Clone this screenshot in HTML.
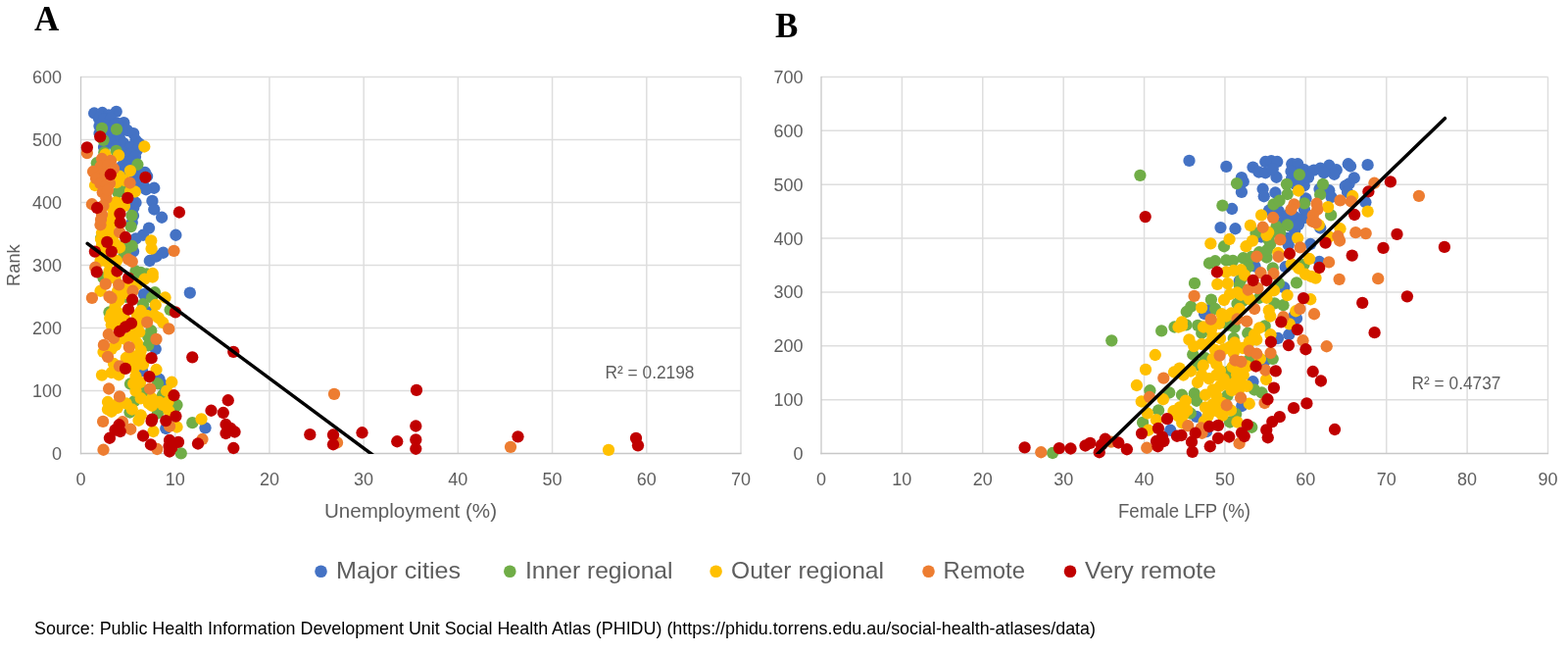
<!DOCTYPE html>
<html lang="en">
<head>
<meta charset="utf-8">
<title>Rank vs Unemployment and Female LFP</title>
<style>
html,body{margin:0;padding:0;background:#fff;}
body{width:1600px;height:667px;overflow:hidden;font-family:"Liberation Sans",sans-serif;}
svg{display:block;}
text{font-family:"Liberation Sans",sans-serif;fill:#5E5E5E;}
.tk text{font-size:18px;}
.ttl{font-size:20px;}
.lg{font-size:24px;}
.r2{font-size:17.5px;}
.pn{font-family:"Liberation Serif",serif;font-weight:bold;font-size:35px;fill:#000;}
.src{font-size:17.9px;fill:#000;}
</style>
</head>
<body>
<svg width="1600" height="667" viewBox="0 0 1600 667">
<rect width="1600" height="667" fill="#fff"/>
<defs><clipPath id="cpA"><rect x="82" y="78" width="675" height="384.9"/></clipPath><clipPath id="cpB"><rect x="837" y="78" width="743" height="384.9"/></clipPath></defs>
<text class="pn" x="35" y="31">A</text>
<text class="pn" x="791" y="37.6">B</text>
<!-- chart A -->
<g stroke="#DEDEDE" stroke-width="1.5" fill="none">
<line x1="178.71" y1="78.50" x2="178.71" y2="462.50"/>
<line x1="274.93" y1="78.50" x2="274.93" y2="462.50"/>
<line x1="371.14" y1="78.50" x2="371.14" y2="462.50"/>
<line x1="467.36" y1="78.50" x2="467.36" y2="462.50"/>
<line x1="563.57" y1="78.50" x2="563.57" y2="462.50"/>
<line x1="659.79" y1="78.50" x2="659.79" y2="462.50"/>
<line x1="756.00" y1="78.50" x2="756.00" y2="462.50"/>
<line x1="82.50" y1="78.50" x2="756.00" y2="78.50"/>
<line x1="82.50" y1="142.50" x2="756.00" y2="142.50"/>
<line x1="82.50" y1="206.50" x2="756.00" y2="206.50"/>
<line x1="82.50" y1="270.50" x2="756.00" y2="270.50"/>
<line x1="82.50" y1="334.50" x2="756.00" y2="334.50"/>
<line x1="82.50" y1="398.50" x2="756.00" y2="398.50"/>
</g>
<g stroke="#C8C8C8" stroke-width="1.3" fill="none">
<line x1="82.50" y1="77.90" x2="82.50" y2="463.20"/>
<line x1="81.80" y1="462.50" x2="756.60" y2="462.50"/>
</g>
<g class="tk">
<text x="82.50" y="494.8" text-anchor="middle">0</text>
<text x="178.71" y="494.8" text-anchor="middle">10</text>
<text x="274.93" y="494.8" text-anchor="middle">20</text>
<text x="371.14" y="494.8" text-anchor="middle">30</text>
<text x="467.36" y="494.8" text-anchor="middle">40</text>
<text x="563.57" y="494.8" text-anchor="middle">50</text>
<text x="659.79" y="494.8" text-anchor="middle">60</text>
<text x="756.00" y="494.8" text-anchor="middle">70</text>
<text x="63.00" y="469.00" text-anchor="end">0</text>
<text x="63.00" y="405.00" text-anchor="end">100</text>
<text x="63.00" y="341.00" text-anchor="end">200</text>
<text x="63.00" y="277.00" text-anchor="end">300</text>
<text x="63.00" y="213.00" text-anchor="end">400</text>
<text x="63.00" y="149.00" text-anchor="end">500</text>
<text x="63.00" y="85.00" text-anchor="end">600</text>
</g>
<text class="ttl" x="419" y="528" text-anchor="middle" textLength="176" lengthAdjust="spacingAndGlyphs">Unemployment (%)</text>
<text class="ttl" style="font-size:19px" transform="translate(20.1,291.9) rotate(-90)" textLength="42.6" lengthAdjust="spacingAndGlyphs">Rank</text>
<text class="r2" x="617.5" y="385.6" textLength="91" lengthAdjust="spacingAndGlyphs">R² = 0.2198</text>
<g fill="#4472C4">
<circle cx="96.1" cy="115.5" r="6.15"/>
<circle cx="104.4" cy="115" r="6.15"/>
<circle cx="118.7" cy="113.8" r="6.15"/>
<circle cx="111" cy="117.5" r="6.15"/>
<circle cx="101" cy="121" r="6.15"/>
<circle cx="106" cy="150" r="6.15"/>
<circle cx="106" cy="121.5" r="6.15"/>
<circle cx="113" cy="121" r="6.15"/>
<circle cx="126.4" cy="125.2" r="6.15"/>
<circle cx="120" cy="126" r="6.15"/>
<circle cx="101.5" cy="128.5" r="6.15"/>
<circle cx="109" cy="128" r="6.15"/>
<circle cx="116" cy="128" r="6.15"/>
<circle cx="123" cy="133" r="6.15"/>
<circle cx="130" cy="133" r="6.15"/>
<circle cx="101.5" cy="136" r="6.15"/>
<circle cx="108" cy="136" r="6.15"/>
<circle cx="115" cy="136" r="6.15"/>
<circle cx="136.2" cy="136.1" r="6.15"/>
<circle cx="122" cy="141" r="6.15"/>
<circle cx="112" cy="143" r="6.15"/>
<circle cx="138.5" cy="143" r="6.15"/>
<circle cx="126" cy="146" r="6.15"/>
<circle cx="142" cy="146.5" r="6.15"/>
<circle cx="118" cy="150" r="6.15"/>
<circle cx="133" cy="150" r="6.15"/>
<circle cx="140" cy="153" r="6.15"/>
<circle cx="126" cy="156" r="6.15"/>
<circle cx="134" cy="156.5" r="6.15"/>
<circle cx="130" cy="160" r="6.15"/>
<circle cx="138" cy="160" r="6.15"/>
<circle cx="127" cy="165" r="6.15"/>
<circle cx="134" cy="165" r="6.15"/>
<circle cx="124" cy="170" r="6.15"/>
<circle cx="130" cy="170" r="6.15"/>
<circle cx="127" cy="175" r="6.15"/>
<circle cx="142" cy="175" r="6.15"/>
<circle cx="148" cy="176" r="6.15"/>
<circle cx="150.1" cy="179.75" r="6.15"/>
<circle cx="138" cy="180" r="6.15"/>
<circle cx="125" cy="187" r="6.15"/>
<circle cx="143.75" cy="185" r="6.15"/>
<circle cx="138" cy="190" r="6.15"/>
<circle cx="147" cy="190" r="6.15"/>
<circle cx="157.25" cy="191.75" r="6.15"/>
<circle cx="149" cy="193.25" r="6.15"/>
<circle cx="155.4" cy="204.9" r="6.15"/>
<circle cx="157.25" cy="213.5" r="6.15"/>
<circle cx="165.1" cy="221.75" r="6.15"/>
<circle cx="152" cy="232.62" r="6.15"/>
<circle cx="138.5" cy="206.75" r="6.15"/>
<circle cx="136.25" cy="212" r="6.15"/>
<circle cx="134.75" cy="227" r="6.15"/>
<circle cx="136" cy="220" r="6.15"/>
<circle cx="179.4" cy="239.75" r="6.15"/>
<circle cx="146" cy="239.75" r="6.15"/>
<circle cx="138.5" cy="243.5" r="6.15"/>
<circle cx="166.6" cy="257.75" r="6.15"/>
<circle cx="152.75" cy="266" r="6.15"/>
<circle cx="159.5" cy="261.5" r="6.15"/>
<circle cx="136" cy="256.5" r="6.15"/>
<circle cx="193.8" cy="298.6" r="6.15"/>
<circle cx="146.75" cy="300.1" r="6.15"/>
<circle cx="151.25" cy="318.5" r="6.15"/>
<circle cx="158.75" cy="356" r="6.15"/>
<circle cx="162.5" cy="386.75" r="6.15"/>
<circle cx="166.25" cy="392.75" r="6.15"/>
<circle cx="145" cy="378" r="6.15"/>
<circle cx="169.25" cy="437" r="6.15"/>
<circle cx="209.5" cy="436.3" r="6.15"/>
</g>
<g fill="#70AD47">
<circle cx="104" cy="130.8" r="6.15"/>
<circle cx="119" cy="131.9" r="6.15"/>
<circle cx="105.5" cy="142.8" r="6.15"/>
<circle cx="106.3" cy="155.5" r="6.15"/>
<circle cx="118.6" cy="153.9" r="6.15"/>
<circle cx="98.8" cy="166.25" r="6.15"/>
<circle cx="140.4" cy="167.75" r="6.15"/>
<circle cx="120.5" cy="196.25" r="6.15"/>
<circle cx="134.4" cy="219.9" r="6.15"/>
<circle cx="133.62" cy="231.12" r="6.15"/>
<circle cx="134.75" cy="251" r="6.15"/>
<circle cx="128.75" cy="254.75" r="6.15"/>
<circle cx="126.5" cy="260" r="6.15"/>
<circle cx="138.5" cy="276.5" r="6.15"/>
<circle cx="143.75" cy="278" r="6.15"/>
<circle cx="149.75" cy="279.5" r="6.15"/>
<circle cx="103" cy="243" r="6.15"/>
<circle cx="128" cy="248" r="6.15"/>
<circle cx="105.5" cy="283.25" r="6.15"/>
<circle cx="158" cy="298.25" r="6.15"/>
<circle cx="155" cy="303.5" r="6.15"/>
<circle cx="146" cy="310.25" r="6.15"/>
<circle cx="173.6" cy="316" r="6.15"/>
<circle cx="111.5" cy="318.5" r="6.15"/>
<circle cx="128.75" cy="302.75" r="6.15"/>
<circle cx="143" cy="284" r="6.15"/>
<circle cx="154.25" cy="337.25" r="6.15"/>
<circle cx="151.25" cy="343.25" r="6.15"/>
<circle cx="151.25" cy="352.25" r="6.15"/>
<circle cx="161" cy="391.25" r="6.15"/>
<circle cx="133" cy="391.5" r="6.15"/>
<circle cx="147.5" cy="398.75" r="6.15"/>
<circle cx="137" cy="409.25" r="6.15"/>
<circle cx="180.5" cy="413" r="6.15"/>
<circle cx="166" cy="403" r="6.15"/>
<circle cx="196.3" cy="431.2" r="6.15"/>
<circle cx="178.25" cy="416" r="6.15"/>
<circle cx="161" cy="421.25" r="6.15"/>
<circle cx="184.75" cy="462.3" r="6.15"/>
<circle cx="132.5" cy="420.5" r="6.15"/>
<circle cx="124.5" cy="194.5" r="6.15"/>
</g>
<g fill="#FFC000">
<circle cx="147.3" cy="149.5" r="6.15"/>
<circle cx="107.4" cy="157.5" r="6.15"/>
<circle cx="121.1" cy="158.4" r="6.15"/>
<circle cx="132.9" cy="174.1" r="6.15"/>
<circle cx="122" cy="179.75" r="6.15"/>
<circle cx="97" cy="189" r="6.15"/>
<circle cx="127" cy="184" r="6.15"/>
<circle cx="137.75" cy="195.5" r="6.15"/>
<circle cx="119" cy="186" r="6.15"/>
<circle cx="122" cy="207.5" r="6.15"/>
<circle cx="116" cy="215" r="6.15"/>
<circle cx="113" cy="222.5" r="6.15"/>
<circle cx="112.25" cy="230" r="6.15"/>
<circle cx="127" cy="210" r="6.15"/>
<circle cx="118" cy="206.3" r="6.15"/>
<circle cx="112" cy="210" r="6.15"/>
<circle cx="154.25" cy="245.4" r="6.15"/>
<circle cx="154.6" cy="253.6" r="6.15"/>
<circle cx="104" cy="237.5" r="6.15"/>
<circle cx="110" cy="236" r="6.15"/>
<circle cx="117.5" cy="248.75" r="6.15"/>
<circle cx="122" cy="252.5" r="6.15"/>
<circle cx="102.5" cy="266" r="6.15"/>
<circle cx="110" cy="267.5" r="6.15"/>
<circle cx="119" cy="266" r="6.15"/>
<circle cx="111.5" cy="276.5" r="6.15"/>
<circle cx="155.75" cy="279" r="6.15"/>
<circle cx="104" cy="250" r="6.15"/>
<circle cx="108" cy="259" r="6.15"/>
<circle cx="116" cy="240" r="6.15"/>
<circle cx="103" cy="244" r="6.15"/>
<circle cx="155.75" cy="282.5" r="6.15"/>
<circle cx="147.5" cy="284.75" r="6.15"/>
<circle cx="102.5" cy="296.75" r="6.15"/>
<circle cx="168.5" cy="303.5" r="6.15"/>
<circle cx="158.75" cy="311" r="6.15"/>
<circle cx="143.75" cy="317" r="6.15"/>
<circle cx="157.25" cy="321.5" r="6.15"/>
<circle cx="111.5" cy="281" r="6.15"/>
<circle cx="117.5" cy="284" r="6.15"/>
<circle cx="125" cy="293.75" r="6.15"/>
<circle cx="121.25" cy="306.5" r="6.15"/>
<circle cx="117.5" cy="312.5" r="6.15"/>
<circle cx="113.75" cy="320" r="6.15"/>
<circle cx="122" cy="320" r="6.15"/>
<circle cx="128" cy="291.5" r="6.15"/>
<circle cx="140" cy="321.5" r="6.15"/>
<circle cx="140" cy="290" r="6.15"/>
<circle cx="125" cy="300" r="6.15"/>
<circle cx="120" cy="297" r="6.15"/>
<circle cx="150" cy="322" r="6.15"/>
<circle cx="112.25" cy="324.5" r="6.15"/>
<circle cx="119" cy="323.75" r="6.15"/>
<circle cx="113.75" cy="331.25" r="6.15"/>
<circle cx="143.75" cy="323.75" r="6.15"/>
<circle cx="161.75" cy="324.12" r="6.15"/>
<circle cx="166.25" cy="329" r="6.15"/>
<circle cx="142.25" cy="338.75" r="6.15"/>
<circle cx="134.75" cy="342.5" r="6.15"/>
<circle cx="140" cy="350" r="6.15"/>
<circle cx="126.5" cy="345.5" r="6.15"/>
<circle cx="143.75" cy="357.5" r="6.15"/>
<circle cx="136.25" cy="363.5" r="6.15"/>
<circle cx="128.75" cy="365" r="6.15"/>
<circle cx="113.75" cy="356" r="6.15"/>
<circle cx="105.5" cy="359" r="6.15"/>
<circle cx="143.75" cy="366.5" r="6.15"/>
<circle cx="120" cy="330" r="6.15"/>
<circle cx="141" cy="331" r="6.15"/>
<circle cx="118" cy="352" r="6.15"/>
<circle cx="134" cy="336" r="6.15"/>
<circle cx="127" cy="325" r="6.15"/>
<circle cx="104" cy="382.6" r="6.15"/>
<circle cx="159.5" cy="377" r="6.15"/>
<circle cx="175.25" cy="389.75" r="6.15"/>
<circle cx="113.75" cy="380" r="6.15"/>
<circle cx="121.25" cy="382.25" r="6.15"/>
<circle cx="132.5" cy="368.75" r="6.15"/>
<circle cx="146" cy="371.75" r="6.15"/>
<circle cx="138.5" cy="383.75" r="6.15"/>
<circle cx="136.25" cy="391.25" r="6.15"/>
<circle cx="138.5" cy="398.75" r="6.15"/>
<circle cx="143.75" cy="406.25" r="6.15"/>
<circle cx="155" cy="406.25" r="6.15"/>
<circle cx="162.5" cy="410" r="6.15"/>
<circle cx="170" cy="398.75" r="6.15"/>
<circle cx="110" cy="410" r="6.15"/>
<circle cx="128.75" cy="411.5" r="6.15"/>
<circle cx="147.5" cy="367.25" r="6.15"/>
<circle cx="171.5" cy="410" r="6.15"/>
<circle cx="152" cy="411.5" r="6.15"/>
<circle cx="120" cy="412" r="6.15"/>
<circle cx="137" cy="375" r="6.15"/>
<circle cx="143" cy="390" r="6.15"/>
<circle cx="116" cy="371" r="6.15"/>
<circle cx="180.5" cy="435.5" r="6.15"/>
<circle cx="156.5" cy="440" r="6.15"/>
<circle cx="141.5" cy="428.75" r="6.15"/>
<circle cx="143.75" cy="423.5" r="6.15"/>
<circle cx="134.75" cy="417.5" r="6.15"/>
<circle cx="110" cy="417.5" r="6.15"/>
<circle cx="113.75" cy="419.75" r="6.15"/>
<circle cx="119.75" cy="416" r="6.15"/>
<circle cx="155" cy="413.75" r="6.15"/>
<circle cx="166.25" cy="413" r="6.15"/>
<circle cx="172.25" cy="419" r="6.15"/>
<circle cx="205.5" cy="427.3" r="6.15"/>
<circle cx="621" cy="458.8" r="6.15"/>
<circle cx="133" cy="195" r="6.15"/>
</g>
<g fill="#ED7D31">
<circle cx="88.85" cy="156.1" r="6.15"/>
<circle cx="104" cy="162" r="6.15"/>
<circle cx="113" cy="164" r="6.15"/>
<circle cx="102.5" cy="170" r="6.15"/>
<circle cx="95" cy="175" r="6.15"/>
<circle cx="110" cy="168.5" r="6.15"/>
<circle cx="116" cy="172" r="6.15"/>
<circle cx="104" cy="178" r="6.15"/>
<circle cx="98" cy="182" r="6.15"/>
<circle cx="106" cy="185" r="6.15"/>
<circle cx="112" cy="187" r="6.15"/>
<circle cx="132.5" cy="186.5" r="6.15"/>
<circle cx="102.5" cy="187.25" r="6.15"/>
<circle cx="108.5" cy="189.5" r="6.15"/>
<circle cx="104.75" cy="196.25" r="6.15"/>
<circle cx="108.5" cy="202.25" r="6.15"/>
<circle cx="110" cy="194" r="6.15"/>
<circle cx="93.9" cy="208.25" r="6.15"/>
<circle cx="104" cy="218.75" r="6.15"/>
<circle cx="102.5" cy="229.25" r="6.15"/>
<circle cx="105.5" cy="209.75" r="6.15"/>
<circle cx="103" cy="224" r="6.15"/>
<circle cx="177.5" cy="255.9" r="6.15"/>
<circle cx="131" cy="264.5" r="6.15"/>
<circle cx="134.75" cy="266.75" r="6.15"/>
<circle cx="122" cy="236.75" r="6.15"/>
<circle cx="97.25" cy="272.75" r="6.15"/>
<circle cx="107.75" cy="289.6" r="6.15"/>
<circle cx="121.25" cy="290.4" r="6.15"/>
<circle cx="93.9" cy="303.9" r="6.15"/>
<circle cx="111.5" cy="302.4" r="6.15"/>
<circle cx="113.5" cy="303.8" r="6.15"/>
<circle cx="135.5" cy="296.75" r="6.15"/>
<circle cx="150.1" cy="328.6" r="6.15"/>
<circle cx="172.25" cy="335.4" r="6.15"/>
<circle cx="159.5" cy="345.9" r="6.15"/>
<circle cx="131.75" cy="354.1" r="6.15"/>
<circle cx="110.75" cy="341" r="6.15"/>
<circle cx="105.9" cy="351.9" r="6.15"/>
<circle cx="110" cy="364" r="6.15"/>
<circle cx="116" cy="344.75" r="6.15"/>
<circle cx="122" cy="373.3" r="6.15"/>
<circle cx="111.1" cy="396.5" r="6.15"/>
<circle cx="122" cy="404.4" r="6.15"/>
<circle cx="153.1" cy="396.5" r="6.15"/>
<circle cx="105.1" cy="429.9" r="6.15"/>
<circle cx="125" cy="430.25" r="6.15"/>
<circle cx="133.25" cy="437.75" r="6.15"/>
<circle cx="105.5" cy="458.75" r="6.15"/>
<circle cx="160.3" cy="458" r="6.15"/>
<circle cx="173" cy="434.75" r="6.15"/>
<circle cx="341" cy="401.8" r="6.15"/>
<circle cx="206.5" cy="448" r="6.15"/>
<circle cx="344" cy="451.4" r="6.15"/>
<circle cx="521" cy="455.8" r="6.15"/>
</g>
<g fill="#C00000">
<circle cx="102.2" cy="139.3" r="6.15"/>
<circle cx="88.85" cy="150.4" r="6.15"/>
<circle cx="112.8" cy="178" r="6.15"/>
<circle cx="148.4" cy="180.9" r="6.15"/>
<circle cx="130.25" cy="201.9" r="6.15"/>
<circle cx="99.1" cy="212" r="6.15"/>
<circle cx="122.4" cy="218" r="6.15"/>
<circle cx="122.75" cy="227.2" r="6.15"/>
<circle cx="182.9" cy="216.5" r="6.15"/>
<circle cx="128" cy="242" r="6.15"/>
<circle cx="109.25" cy="246.9" r="6.15"/>
<circle cx="113.75" cy="256.6" r="6.15"/>
<circle cx="96.9" cy="256.6" r="6.15"/>
<circle cx="98.75" cy="277.4" r="6.15"/>
<circle cx="119.5" cy="276.5" r="6.15"/>
<circle cx="131" cy="283.6" r="6.15"/>
<circle cx="135.1" cy="305.75" r="6.15"/>
<circle cx="131" cy="315.5" r="6.15"/>
<circle cx="179" cy="318.4" r="6.15"/>
<circle cx="134" cy="329.75" r="6.15"/>
<circle cx="128" cy="333.5" r="6.15"/>
<circle cx="122" cy="338" r="6.15"/>
<circle cx="154.6" cy="365.2" r="6.15"/>
<circle cx="196.25" cy="364.3" r="6.15"/>
<circle cx="128" cy="375.9" r="6.15"/>
<circle cx="152.4" cy="384.1" r="6.15"/>
<circle cx="177.5" cy="403.25" r="6.15"/>
<circle cx="154.6" cy="429.4" r="6.15"/>
<circle cx="155.2" cy="427.6" r="6.15"/>
<circle cx="172.5" cy="455" r="6.15"/>
<circle cx="173" cy="460.5" r="6.15"/>
<circle cx="235.5" cy="437" r="6.15"/>
<circle cx="169.25" cy="429.1" r="6.15"/>
<circle cx="179.4" cy="424.6" r="6.15"/>
<circle cx="121.6" cy="433.25" r="6.15"/>
<circle cx="122.75" cy="440" r="6.15"/>
<circle cx="117.5" cy="438.5" r="6.15"/>
<circle cx="111.9" cy="446.75" r="6.15"/>
<circle cx="146" cy="444.5" r="6.15"/>
<circle cx="153.9" cy="453.5" r="6.15"/>
<circle cx="173" cy="449" r="6.15"/>
<circle cx="182" cy="450.9" r="6.15"/>
<circle cx="175.25" cy="456.5" r="6.15"/>
<circle cx="232.75" cy="408.25" r="6.15"/>
<circle cx="215.5" cy="418.75" r="6.15"/>
<circle cx="227.8" cy="421" r="6.15"/>
<circle cx="230.5" cy="433" r="6.15"/>
<circle cx="230.5" cy="442" r="6.15"/>
<circle cx="239.5" cy="440.5" r="6.15"/>
<circle cx="202" cy="452.5" r="6.15"/>
<circle cx="238.3" cy="457" r="6.15"/>
<circle cx="316.3" cy="443.2" r="6.15"/>
<circle cx="340" cy="443.5" r="6.15"/>
<circle cx="340" cy="453.25" r="6.15"/>
<circle cx="369.5" cy="441.25" r="6.15"/>
<circle cx="405.25" cy="450.25" r="6.15"/>
<circle cx="425" cy="397.9" r="6.15"/>
<circle cx="424.3" cy="434.5" r="6.15"/>
<circle cx="424.3" cy="448.4" r="6.15"/>
<circle cx="424.3" cy="457.75" r="6.15"/>
<circle cx="528.5" cy="445.3" r="6.15"/>
<circle cx="649" cy="446.8" r="6.15"/>
<circle cx="651" cy="454.3" r="6.15"/>
<circle cx="238.25" cy="358.8" r="6.15"/>
</g>
<line x1="89.2" y1="248.4" x2="381.5" y2="464.8" stroke="#000" stroke-width="3.5" stroke-linecap="round" clip-path="url(#cpA)"/>
<!-- chart B -->
<g stroke="#DEDEDE" stroke-width="1.5" fill="none">
<line x1="920.39" y1="78.50" x2="920.39" y2="462.50"/>
<line x1="1002.78" y1="78.50" x2="1002.78" y2="462.50"/>
<line x1="1085.17" y1="78.50" x2="1085.17" y2="462.50"/>
<line x1="1167.56" y1="78.50" x2="1167.56" y2="462.50"/>
<line x1="1249.94" y1="78.50" x2="1249.94" y2="462.50"/>
<line x1="1332.33" y1="78.50" x2="1332.33" y2="462.50"/>
<line x1="1414.72" y1="78.50" x2="1414.72" y2="462.50"/>
<line x1="1497.11" y1="78.50" x2="1497.11" y2="462.50"/>
<line x1="1579.50" y1="78.50" x2="1579.50" y2="462.50"/>
<line x1="838.00" y1="78.50" x2="1579.50" y2="78.50"/>
<line x1="838.00" y1="133.36" x2="1579.50" y2="133.36"/>
<line x1="838.00" y1="188.21" x2="1579.50" y2="188.21"/>
<line x1="838.00" y1="243.07" x2="1579.50" y2="243.07"/>
<line x1="838.00" y1="297.93" x2="1579.50" y2="297.93"/>
<line x1="838.00" y1="352.79" x2="1579.50" y2="352.79"/>
<line x1="838.00" y1="407.64" x2="1579.50" y2="407.64"/>
</g>
<g stroke="#C8C8C8" stroke-width="1.3" fill="none">
<line x1="838.00" y1="77.90" x2="838.00" y2="463.20"/>
<line x1="837.30" y1="462.50" x2="1580.10" y2="462.50"/>
</g>
<g class="tk">
<text x="838.00" y="494.8" text-anchor="middle">0</text>
<text x="920.39" y="494.8" text-anchor="middle">10</text>
<text x="1002.78" y="494.8" text-anchor="middle">20</text>
<text x="1085.17" y="494.8" text-anchor="middle">30</text>
<text x="1167.56" y="494.8" text-anchor="middle">40</text>
<text x="1249.94" y="494.8" text-anchor="middle">50</text>
<text x="1332.33" y="494.8" text-anchor="middle">60</text>
<text x="1414.72" y="494.8" text-anchor="middle">70</text>
<text x="1497.11" y="494.8" text-anchor="middle">80</text>
<text x="1579.50" y="494.8" text-anchor="middle">90</text>
<text x="819.50" y="469.00" text-anchor="end">0</text>
<text x="819.50" y="414.14" text-anchor="end">100</text>
<text x="819.50" y="359.29" text-anchor="end">200</text>
<text x="819.50" y="304.43" text-anchor="end">300</text>
<text x="819.50" y="249.57" text-anchor="end">400</text>
<text x="819.50" y="194.71" text-anchor="end">500</text>
<text x="819.50" y="139.86" text-anchor="end">600</text>
<text x="819.50" y="85.00" text-anchor="end">700</text>
</g>
<text class="ttl" x="1208.5" y="528" text-anchor="middle" textLength="135" lengthAdjust="spacingAndGlyphs">Female LFP (%)</text>
<text class="r2" x="1440.5" y="396.5" textLength="91" lengthAdjust="spacingAndGlyphs">R² = 0.4737</text>
<g fill="#4472C4">
<circle cx="1251.35" cy="169.9" r="6.15"/>
<circle cx="1278.5" cy="170.6" r="6.15"/>
<circle cx="1266.9" cy="181.1" r="6.15"/>
<circle cx="1268.75" cy="185.25" r="6.15"/>
<circle cx="1266.9" cy="195.9" r="6.15"/>
<circle cx="1291.25" cy="165" r="6.15"/>
<circle cx="1297.25" cy="164.25" r="6.15"/>
<circle cx="1303.25" cy="165" r="6.15"/>
<circle cx="1284.5" cy="175.5" r="6.15"/>
<circle cx="1291.25" cy="176.25" r="6.15"/>
<circle cx="1302.5" cy="180.75" r="6.15"/>
<circle cx="1298.75" cy="172.5" r="6.15"/>
<circle cx="1288.6" cy="192.75" r="6.15"/>
<circle cx="1301.38" cy="196.5" r="6.15"/>
<circle cx="1318.25" cy="167.25" r="6.15"/>
<circle cx="1324.25" cy="167.25" r="6.15"/>
<circle cx="1317.5" cy="174.75" r="6.15"/>
<circle cx="1331" cy="173.25" r="6.15"/>
<circle cx="1328.75" cy="181.5" r="6.15"/>
<circle cx="1340.62" cy="173.62" r="6.15"/>
<circle cx="1318" cy="182" r="6.15"/>
<circle cx="1322" cy="188" r="6.15"/>
<circle cx="1330.75" cy="189.25" r="6.15"/>
<circle cx="1395.6" cy="168.2" r="6.15"/>
<circle cx="1375.75" cy="167.25" r="6.15"/>
<circle cx="1378" cy="169.5" r="6.15"/>
<circle cx="1356.25" cy="168.75" r="6.15"/>
<circle cx="1347.25" cy="171.75" r="6.15"/>
<circle cx="1363.75" cy="173.25" r="6.15"/>
<circle cx="1361.5" cy="177.75" r="6.15"/>
<circle cx="1351" cy="176.25" r="6.15"/>
<circle cx="1381.75" cy="181.5" r="6.15"/>
<circle cx="1376.5" cy="187.5" r="6.15"/>
<circle cx="1372.75" cy="189.75" r="6.15"/>
<circle cx="1356.25" cy="194.25" r="6.15"/>
<circle cx="1346.5" cy="192.75" r="6.15"/>
<circle cx="1335" cy="181" r="6.15"/>
<circle cx="1257.1" cy="213" r="6.15"/>
<circle cx="1245.5" cy="232.1" r="6.15"/>
<circle cx="1260.5" cy="233.25" r="6.15"/>
<circle cx="1289.75" cy="200.25" r="6.15"/>
<circle cx="1295" cy="214.5" r="6.15"/>
<circle cx="1304.75" cy="215.25" r="6.15"/>
<circle cx="1313.75" cy="219.75" r="6.15"/>
<circle cx="1321.25" cy="221.25" r="6.15"/>
<circle cx="1329.88" cy="222.38" r="6.15"/>
<circle cx="1317.5" cy="231" r="6.15"/>
<circle cx="1321.25" cy="234.75" r="6.15"/>
<circle cx="1332.5" cy="202.5" r="6.15"/>
<circle cx="1331" cy="213.75" r="6.15"/>
<circle cx="1287" cy="241.5" r="6.15"/>
<circle cx="1313.75" cy="243" r="6.15"/>
<circle cx="1310" cy="225" r="6.15"/>
<circle cx="1325" cy="229" r="6.15"/>
<circle cx="1393.4" cy="206.25" r="6.15"/>
<circle cx="1358.5" cy="201" r="6.15"/>
<circle cx="1347.25" cy="232.5" r="6.15"/>
<circle cx="1375" cy="196" r="6.15"/>
<circle cx="1280.5" cy="271.5" r="6.15"/>
<circle cx="1264.75" cy="286.5" r="6.15"/>
<circle cx="1337.25" cy="249" r="6.15"/>
<circle cx="1314.75" cy="249.75" r="6.15"/>
<circle cx="1346.25" cy="267" r="6.15"/>
<circle cx="1311.75" cy="272.25" r="6.15"/>
<circle cx="1232.5" cy="316.5" r="6.15"/>
<circle cx="1229" cy="320" r="6.15"/>
<circle cx="1310.25" cy="293.25" r="6.15"/>
<circle cx="1320.75" cy="321.75" r="6.15"/>
<circle cx="1323" cy="324.75" r="6.15"/>
<circle cx="1315.25" cy="341.25" r="6.15"/>
<circle cx="1304" cy="345" r="6.15"/>
<circle cx="1290.5" cy="368.25" r="6.15"/>
<circle cx="1220.75" cy="424.88" r="6.15"/>
<circle cx="1278.5" cy="389.25" r="6.15"/>
<circle cx="1267.25" cy="414" r="6.15"/>
<circle cx="1194.25" cy="438.75" r="6.15"/>
<circle cx="1231" cy="440.2" r="6.15"/>
<circle cx="1213.5" cy="163.9" r="6.15"/>
</g>
<g fill="#70AD47">
<circle cx="1262" cy="187.1" r="6.15"/>
<circle cx="1325.9" cy="178.1" r="6.15"/>
<circle cx="1313" cy="187.9" r="6.15"/>
<circle cx="1313.75" cy="198" r="6.15"/>
<circle cx="1349.9" cy="187.9" r="6.15"/>
<circle cx="1347.1" cy="198.5" r="6.15"/>
<circle cx="1247.4" cy="209.6" r="6.15"/>
<circle cx="1299.5" cy="208.5" r="6.15"/>
<circle cx="1305.5" cy="204.75" r="6.15"/>
<circle cx="1331" cy="207.4" r="6.15"/>
<circle cx="1313.75" cy="229.5" r="6.15"/>
<circle cx="1302.5" cy="231" r="6.15"/>
<circle cx="1306.25" cy="237.75" r="6.15"/>
<circle cx="1281.5" cy="237.75" r="6.15"/>
<circle cx="1298.75" cy="237" r="6.15"/>
<circle cx="1358.1" cy="219.4" r="6.15"/>
<circle cx="1249" cy="251.25" r="6.15"/>
<circle cx="1234" cy="268.5" r="6.15"/>
<circle cx="1240" cy="266.25" r="6.15"/>
<circle cx="1251.25" cy="265.5" r="6.15"/>
<circle cx="1258" cy="265.9" r="6.15"/>
<circle cx="1268.5" cy="263.25" r="6.15"/>
<circle cx="1285" cy="257.25" r="6.15"/>
<circle cx="1292.5" cy="262.5" r="6.15"/>
<circle cx="1296.25" cy="249" r="6.15"/>
<circle cx="1219" cy="288.9" r="6.15"/>
<circle cx="1266.25" cy="285" r="6.15"/>
<circle cx="1298.75" cy="273.38" r="6.15"/>
<circle cx="1273.75" cy="272.25" r="6.15"/>
<circle cx="1277" cy="262" r="6.15"/>
<circle cx="1293" cy="255" r="6.15"/>
<circle cx="1323" cy="288.3" r="6.15"/>
<circle cx="1305" cy="289" r="6.15"/>
<circle cx="1330.5" cy="270" r="6.15"/>
<circle cx="1294.5" cy="244.5" r="6.15"/>
<circle cx="1235.9" cy="305.6" r="6.15"/>
<circle cx="1215.25" cy="312.75" r="6.15"/>
<circle cx="1210.75" cy="318" r="6.15"/>
<circle cx="1240" cy="315" r="6.15"/>
<circle cx="1262.5" cy="309.75" r="6.15"/>
<circle cx="1268.5" cy="306.75" r="6.15"/>
<circle cx="1198.5" cy="333.5" r="6.15"/>
<circle cx="1185.2" cy="337.4" r="6.15"/>
<circle cx="1222.25" cy="331.88" r="6.15"/>
<circle cx="1264.75" cy="291" r="6.15"/>
<circle cx="1285" cy="303.75" r="6.15"/>
<circle cx="1290.68" cy="332.44" r="6.15"/>
<circle cx="1300.62" cy="309.38" r="6.15"/>
<circle cx="1253.5" cy="331.5" r="6.15"/>
<circle cx="1210.38" cy="331.38" r="6.15"/>
<circle cx="1309.5" cy="311.25" r="6.15"/>
<circle cx="1134.3" cy="347.3" r="6.15"/>
<circle cx="1226.25" cy="339.75" r="6.15"/>
<circle cx="1217.25" cy="361.5" r="6.15"/>
<circle cx="1230" cy="365.25" r="6.15"/>
<circle cx="1222.5" cy="372" r="6.15"/>
<circle cx="1258.75" cy="345" r="6.15"/>
<circle cx="1254" cy="378.75" r="6.15"/>
<circle cx="1298.75" cy="366" r="6.15"/>
<circle cx="1273.25" cy="339.75" r="6.15"/>
<circle cx="1259.75" cy="333.75" r="6.15"/>
<circle cx="1274" cy="367.5" r="6.15"/>
<circle cx="1173.4" cy="398.25" r="6.15"/>
<circle cx="1193.25" cy="400.5" r="6.15"/>
<circle cx="1182.12" cy="418.5" r="6.15"/>
<circle cx="1206" cy="402.75" r="6.15"/>
<circle cx="1218.75" cy="401.25" r="6.15"/>
<circle cx="1221" cy="408.75" r="6.15"/>
<circle cx="1254" cy="382.5" r="6.15"/>
<circle cx="1252.5" cy="403.5" r="6.15"/>
<circle cx="1214.75" cy="421.5" r="6.15"/>
<circle cx="1287.5" cy="400.5" r="6.15"/>
<circle cx="1280" cy="397.5" r="6.15"/>
<circle cx="1261.12" cy="422.25" r="6.15"/>
<circle cx="1074.1" cy="462" r="6.15"/>
<circle cx="1166.1" cy="430.9" r="6.15"/>
<circle cx="1255" cy="430.5" r="6.15"/>
<circle cx="1277.25" cy="435.75" r="6.15"/>
<circle cx="1163.4" cy="178.8" r="6.15"/>
</g>
<g fill="#FFC000">
<circle cx="1325" cy="194.5" r="6.15"/>
<circle cx="1380.25" cy="200" r="6.15"/>
<circle cx="1287.1" cy="219.4" r="6.15"/>
<circle cx="1275.9" cy="229.9" r="6.15"/>
<circle cx="1294.25" cy="237" r="6.15"/>
<circle cx="1254.55" cy="244" r="6.15"/>
<circle cx="1235.35" cy="248.35" r="6.15"/>
<circle cx="1278" cy="245.62" r="6.15"/>
<circle cx="1324.17" cy="242.82" r="6.15"/>
<circle cx="1395.6" cy="215.6" r="6.15"/>
<circle cx="1355.1" cy="211.1" r="6.15"/>
<circle cx="1367.5" cy="233.25" r="6.15"/>
<circle cx="1345.75" cy="229.5" r="6.15"/>
<circle cx="1356.25" cy="241.5" r="6.15"/>
<circle cx="1271.5" cy="251.25" r="6.15"/>
<circle cx="1292.5" cy="240" r="6.15"/>
<circle cx="1258.75" cy="276" r="6.15"/>
<circle cx="1266.25" cy="275.25" r="6.15"/>
<circle cx="1251.25" cy="277.5" r="6.15"/>
<circle cx="1270" cy="280.5" r="6.15"/>
<circle cx="1242.25" cy="289.88" r="6.15"/>
<circle cx="1252.75" cy="289.12" r="6.15"/>
<circle cx="1304.25" cy="258" r="6.15"/>
<circle cx="1336.1" cy="264" r="6.15"/>
<circle cx="1317.75" cy="269.25" r="6.15"/>
<circle cx="1325.25" cy="273.75" r="6.15"/>
<circle cx="1332" cy="279.75" r="6.15"/>
<circle cx="1338" cy="282" r="6.15"/>
<circle cx="1342.5" cy="283.6" r="6.15"/>
<circle cx="1226.1" cy="313.9" r="6.15"/>
<circle cx="1249" cy="306" r="6.15"/>
<circle cx="1255" cy="300" r="6.15"/>
<circle cx="1262.5" cy="298.5" r="6.15"/>
<circle cx="1266.25" cy="300.75" r="6.15"/>
<circle cx="1246.75" cy="320.25" r="6.15"/>
<circle cx="1251.25" cy="322.5" r="6.15"/>
<circle cx="1256.5" cy="319.5" r="6.15"/>
<circle cx="1264.75" cy="315" r="6.15"/>
<circle cx="1205.9" cy="328.5" r="6.15"/>
<circle cx="1202.5" cy="333.5" r="6.15"/>
<circle cx="1228" cy="333.5" r="6.15"/>
<circle cx="1294.75" cy="316.5" r="6.15"/>
<circle cx="1296.25" cy="322.5" r="6.15"/>
<circle cx="1292.5" cy="303.75" r="6.15"/>
<circle cx="1285.12" cy="334.5" r="6.15"/>
<circle cx="1300" cy="296.25" r="6.15"/>
<circle cx="1244" cy="330" r="6.15"/>
<circle cx="1275" cy="305" r="6.15"/>
<circle cx="1337.25" cy="305.25" r="6.15"/>
<circle cx="1313.6" cy="301.1" r="6.15"/>
<circle cx="1322.25" cy="317.25" r="6.15"/>
<circle cx="1315.75" cy="330.38" r="6.15"/>
<circle cx="1178.8" cy="362" r="6.15"/>
<circle cx="1169" cy="376.8" r="6.15"/>
<circle cx="1206" cy="332.25" r="6.15"/>
<circle cx="1213.4" cy="346.4" r="6.15"/>
<circle cx="1218.2" cy="353.1" r="6.15"/>
<circle cx="1226.25" cy="351" r="6.15"/>
<circle cx="1236" cy="336" r="6.15"/>
<circle cx="1237.5" cy="343.5" r="6.15"/>
<circle cx="1245" cy="345" r="6.15"/>
<circle cx="1233.75" cy="350.25" r="6.15"/>
<circle cx="1203.6" cy="375.6" r="6.15"/>
<circle cx="1198" cy="379.5" r="6.15"/>
<circle cx="1215" cy="378.5" r="6.15"/>
<circle cx="1227.75" cy="372.75" r="6.15"/>
<circle cx="1241.25" cy="371.25" r="6.15"/>
<circle cx="1237.5" cy="366" r="6.15"/>
<circle cx="1248.75" cy="356.25" r="6.15"/>
<circle cx="1255.38" cy="353.62" r="6.15"/>
<circle cx="1258.75" cy="360" r="6.15"/>
<circle cx="1245" cy="378" r="6.15"/>
<circle cx="1257.62" cy="374.25" r="6.15"/>
<circle cx="1240" cy="357" r="6.15"/>
<circle cx="1280" cy="341.25" r="6.15"/>
<circle cx="1274.75" cy="348.75" r="6.15"/>
<circle cx="1282.25" cy="346.5" r="6.15"/>
<circle cx="1296.5" cy="341.25" r="6.15"/>
<circle cx="1259.75" cy="349.5" r="6.15"/>
<circle cx="1286" cy="366" r="6.15"/>
<circle cx="1268.75" cy="376.5" r="6.15"/>
<circle cx="1272.5" cy="373.5" r="6.15"/>
<circle cx="1268" cy="355" r="6.15"/>
<circle cx="1159.9" cy="393" r="6.15"/>
<circle cx="1164.75" cy="409.5" r="6.15"/>
<circle cx="1186.9" cy="407.25" r="6.15"/>
<circle cx="1207.5" cy="382.5" r="6.15"/>
<circle cx="1226.25" cy="382.5" r="6.15"/>
<circle cx="1233.75" cy="386.25" r="6.15"/>
<circle cx="1241.25" cy="382.5" r="6.15"/>
<circle cx="1248.75" cy="386.25" r="6.15"/>
<circle cx="1252.5" cy="392.25" r="6.15"/>
<circle cx="1245" cy="393.75" r="6.15"/>
<circle cx="1237.5" cy="397.5" r="6.15"/>
<circle cx="1230" cy="402.75" r="6.15"/>
<circle cx="1241.25" cy="403.5" r="6.15"/>
<circle cx="1256.88" cy="398.25" r="6.15"/>
<circle cx="1209.75" cy="408.75" r="6.15"/>
<circle cx="1203.75" cy="415.5" r="6.15"/>
<circle cx="1197.5" cy="419.25" r="6.15"/>
<circle cx="1211.25" cy="418.5" r="6.15"/>
<circle cx="1207.5" cy="423" r="6.15"/>
<circle cx="1230" cy="415.5" r="6.15"/>
<circle cx="1237.5" cy="412.5" r="6.15"/>
<circle cx="1233.75" cy="421.5" r="6.15"/>
<circle cx="1243.5" cy="420" r="6.15"/>
<circle cx="1170.88" cy="421.5" r="6.15"/>
<circle cx="1260" cy="390" r="6.15"/>
<circle cx="1222" cy="390" r="6.15"/>
<circle cx="1247" cy="411" r="6.15"/>
<circle cx="1292" cy="387" r="6.15"/>
<circle cx="1274.75" cy="411.75" r="6.15"/>
<circle cx="1268.75" cy="382.5" r="6.15"/>
<circle cx="1265" cy="390" r="6.15"/>
<circle cx="1272.5" cy="393.75" r="6.15"/>
<circle cx="1256" cy="418.5" r="6.15"/>
<circle cx="1262" cy="382" r="6.15"/>
<circle cx="1180" cy="428.25" r="6.15"/>
<circle cx="1171.75" cy="438.75" r="6.15"/>
<circle cx="1202.5" cy="424.5" r="6.15"/>
<circle cx="1206.25" cy="431.25" r="6.15"/>
<circle cx="1232.5" cy="424.5" r="6.15"/>
<circle cx="1228.75" cy="429.75" r="6.15"/>
<circle cx="1247.5" cy="423.75" r="6.15"/>
<circle cx="1262.5" cy="430.5" r="6.15"/>
<circle cx="1264" cy="398" r="6.15"/>
</g>
<g fill="#ED7D31">
<circle cx="1402.4" cy="186.75" r="6.15"/>
<circle cx="1447.9" cy="199.8" r="6.15"/>
<circle cx="1367.5" cy="204.4" r="6.15"/>
<circle cx="1320.5" cy="208.5" r="6.15"/>
<circle cx="1317.5" cy="213.75" r="6.15"/>
<circle cx="1299.1" cy="222" r="6.15"/>
<circle cx="1288.6" cy="231.75" r="6.15"/>
<circle cx="1306.38" cy="244.32" r="6.15"/>
<circle cx="1378.75" cy="205.5" r="6.15"/>
<circle cx="1343.5" cy="207.75" r="6.15"/>
<circle cx="1344.25" cy="213.75" r="6.15"/>
<circle cx="1339.75" cy="219.75" r="6.15"/>
<circle cx="1339" cy="225.75" r="6.15"/>
<circle cx="1342.75" cy="227.25" r="6.15"/>
<circle cx="1383.3" cy="237.2" r="6.15"/>
<circle cx="1393.7" cy="238.1" r="6.15"/>
<circle cx="1367" cy="245.5" r="6.15"/>
<circle cx="1365.3" cy="241" r="6.15"/>
<circle cx="1282.4" cy="261.75" r="6.15"/>
<circle cx="1286.5" cy="278.25" r="6.15"/>
<circle cx="1299.5" cy="279" r="6.15"/>
<circle cx="1326.75" cy="252.4" r="6.15"/>
<circle cx="1304.6" cy="261.75" r="6.15"/>
<circle cx="1356" cy="267.4" r="6.15"/>
<circle cx="1366.6" cy="284.8" r="6.15"/>
<circle cx="1406.2" cy="284.2" r="6.15"/>
<circle cx="1218.6" cy="301.9" r="6.15"/>
<circle cx="1235.6" cy="325.7" r="6.15"/>
<circle cx="1273.75" cy="295.5" r="6.15"/>
<circle cx="1283.5" cy="294" r="6.15"/>
<circle cx="1280.1" cy="315" r="6.15"/>
<circle cx="1272.25" cy="327.75" r="6.15"/>
<circle cx="1262.5" cy="325.5" r="6.15"/>
<circle cx="1326.4" cy="315" r="6.15"/>
<circle cx="1341" cy="320.25" r="6.15"/>
<circle cx="1309.5" cy="323.25" r="6.15"/>
<circle cx="1244.6" cy="362.6" r="6.15"/>
<circle cx="1260.3" cy="367.5" r="6.15"/>
<circle cx="1187.3" cy="385.6" r="6.15"/>
<circle cx="1329.5" cy="347.25" r="6.15"/>
<circle cx="1353.7" cy="353.25" r="6.15"/>
<circle cx="1296.5" cy="360" r="6.15"/>
<circle cx="1274.75" cy="357.75" r="6.15"/>
<circle cx="1282.25" cy="360.75" r="6.15"/>
<circle cx="1266.5" cy="369" r="6.15"/>
<circle cx="1291.25" cy="377.5" r="6.15"/>
<circle cx="1173" cy="405" r="6.15"/>
<circle cx="1251.75" cy="413.25" r="6.15"/>
<circle cx="1266.1" cy="405.75" r="6.15"/>
<circle cx="1290.5" cy="411" r="6.15"/>
<circle cx="1062.3" cy="461.25" r="6.15"/>
<circle cx="1133.8" cy="450.6" r="6.15"/>
<circle cx="1170.25" cy="456.75" r="6.15"/>
<circle cx="1212.25" cy="434.25" r="6.15"/>
<circle cx="1225.75" cy="436.5" r="6.15"/>
<circle cx="1226.5" cy="441.75" r="6.15"/>
<circle cx="1264.6" cy="452.25" r="6.15"/>
</g>
<g fill="#C00000">
<circle cx="1418.9" cy="185.4" r="6.15"/>
<circle cx="1396.4" cy="195.4" r="6.15"/>
<circle cx="1382.1" cy="219" r="6.15"/>
<circle cx="1425.5" cy="238.9" r="6.15"/>
<circle cx="1352.55" cy="247.65" r="6.15"/>
<circle cx="1241.9" cy="277.5" r="6.15"/>
<circle cx="1278.6" cy="286" r="6.15"/>
<circle cx="1292.4" cy="286" r="6.15"/>
<circle cx="1315.9" cy="258.75" r="6.15"/>
<circle cx="1346.25" cy="273" r="6.15"/>
<circle cx="1379.7" cy="260.6" r="6.15"/>
<circle cx="1411.5" cy="252.85" r="6.15"/>
<circle cx="1330.1" cy="304.1" r="6.15"/>
<circle cx="1390.2" cy="308.9" r="6.15"/>
<circle cx="1307.3" cy="328.3" r="6.15"/>
<circle cx="1323.85" cy="336.05" r="6.15"/>
<circle cx="1402.6" cy="339.2" r="6.15"/>
<circle cx="1435.9" cy="302.3" r="6.15"/>
<circle cx="1473.9" cy="251.95" r="6.15"/>
<circle cx="1296.9" cy="348.75" r="6.15"/>
<circle cx="1314.9" cy="352.1" r="6.15"/>
<circle cx="1332.4" cy="356.25" r="6.15"/>
<circle cx="1281.5" cy="373.5" r="6.15"/>
<circle cx="1301.75" cy="378.4" r="6.15"/>
<circle cx="1339.65" cy="379" r="6.15"/>
<circle cx="1191" cy="427.2" r="6.15"/>
<circle cx="1347.9" cy="388.5" r="6.15"/>
<circle cx="1299.9" cy="395.6" r="6.15"/>
<circle cx="1293.5" cy="407.25" r="6.15"/>
<circle cx="1333.4" cy="411.4" r="6.15"/>
<circle cx="1320.1" cy="416.2" r="6.15"/>
<circle cx="1305.78" cy="425.18" r="6.15"/>
<circle cx="1045.6" cy="456.4" r="6.15"/>
<circle cx="1080.9" cy="457.1" r="6.15"/>
<circle cx="1092.5" cy="457.5" r="6.15"/>
<circle cx="1107.5" cy="454.5" r="6.15"/>
<circle cx="1112.4" cy="451.9" r="6.15"/>
<circle cx="1127.75" cy="447.75" r="6.15"/>
<circle cx="1124" cy="453.75" r="6.15"/>
<circle cx="1121.75" cy="461.25" r="6.15"/>
<circle cx="1141.25" cy="451.5" r="6.15"/>
<circle cx="1149.9" cy="458.25" r="6.15"/>
<circle cx="1165" cy="442.1" r="6.15"/>
<circle cx="1181.9" cy="436.9" r="6.15"/>
<circle cx="1186" cy="445.5" r="6.15"/>
<circle cx="1180" cy="450" r="6.15"/>
<circle cx="1187.5" cy="450" r="6.15"/>
<circle cx="1181.5" cy="455.25" r="6.15"/>
<circle cx="1201" cy="444.75" r="6.15"/>
<circle cx="1205.5" cy="444" r="6.15"/>
<circle cx="1219.75" cy="441.75" r="6.15"/>
<circle cx="1216" cy="450.75" r="6.15"/>
<circle cx="1216.75" cy="460.9" r="6.15"/>
<circle cx="1234" cy="435" r="6.15"/>
<circle cx="1243" cy="433.9" r="6.15"/>
<circle cx="1243" cy="447" r="6.15"/>
<circle cx="1234.75" cy="455.25" r="6.15"/>
<circle cx="1254.25" cy="445.5" r="6.15"/>
<circle cx="1267" cy="441.3" r="6.15"/>
<circle cx="1272.75" cy="433.1" r="6.15"/>
<circle cx="1269.75" cy="445" r="6.15"/>
<circle cx="1362" cy="438" r="6.15"/>
<circle cx="1298.25" cy="430.1" r="6.15"/>
<circle cx="1292.25" cy="438.4" r="6.15"/>
<circle cx="1293.75" cy="446.25" r="6.15"/>
<circle cx="1168.7" cy="221.1" r="6.15"/>
</g>
<line x1="1117.6" y1="465.3" x2="1474.4" y2="120.7" stroke="#000" stroke-width="3.5" stroke-linecap="round" clip-path="url(#cpB)"/>
<!-- legend -->
<g class="lg">
<circle cx="327.5" cy="582.8" r="6.3" fill="#4472C4"/>
<text x="343" y="590" textLength="127" lengthAdjust="spacingAndGlyphs">Major cities</text>
<circle cx="520.3" cy="582.8" r="6.3" fill="#70AD47"/>
<text x="536" y="590" textLength="150.5" lengthAdjust="spacingAndGlyphs">Inner regional</text>
<circle cx="730.6" cy="582.8" r="6.3" fill="#FFC000"/>
<text x="746" y="590" textLength="156" lengthAdjust="spacingAndGlyphs">Outer regional</text>
<circle cx="947.5" cy="582.8" r="6.3" fill="#ED7D31"/>
<text x="962.5" y="590" textLength="83.5" lengthAdjust="spacingAndGlyphs">Remote</text>
<circle cx="1092" cy="582.8" r="6.3" fill="#C00000"/>
<text x="1107" y="590" textLength="134" lengthAdjust="spacingAndGlyphs">Very remote</text>
</g>
<text class="src" x="35" y="647" textLength="1083" lengthAdjust="spacingAndGlyphs">Source: Public Health Information Development Unit Social Health Atlas (PHIDU) (https://phidu.torrens.edu.au/social-health-atlases/data)</text>
</svg>
</body>
</html>
